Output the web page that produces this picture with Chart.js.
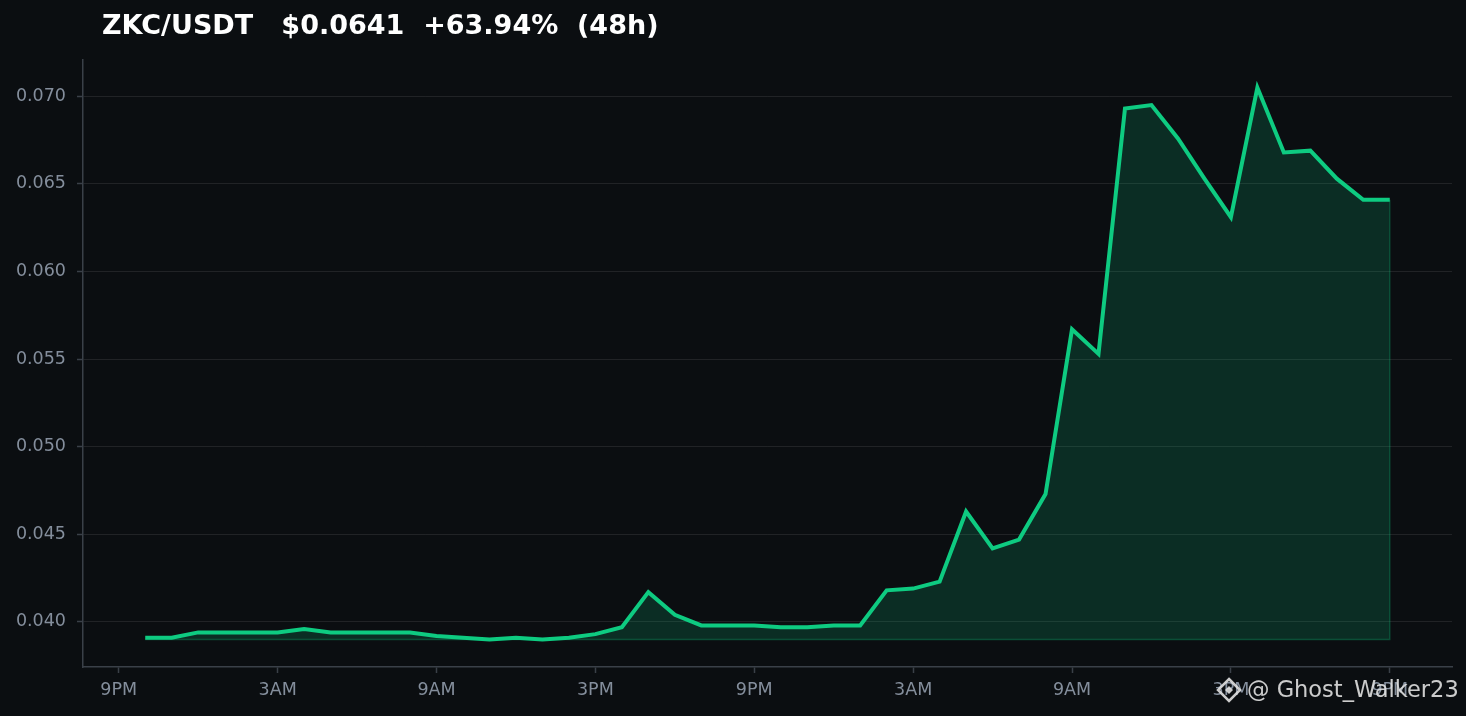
<!DOCTYPE html>
<html>
<head>
<meta charset="utf-8">
<script src="https://cdn.jsdelivr.net/npm/chart.js@4/dist/chart.umd.min.js"></script>
<style>
  html, body { margin: 0; padding: 0; background: #0b0e11; }
  #wrap { width: 1466px; height: 716px; }
</style>
</head>
<body>
<div id="wrap"><canvas id="c" width="1466" height="716"></canvas></div>
<script>
// --- data (hourly closes, hour 1 = 10PM of day 1) ---
const hours = [];
for (let h = 1; h <= 48; h++) hours.push(h);

const prices = [
  0.0391, 0.0391, 0.0394, 0.0394, 0.0394, 0.0394, 0.0396, 0.0394,
  0.0394, 0.0394, 0.0394, 0.0392, 0.0391, 0.0390, 0.0391, 0.0390,
  0.0391, 0.0393, 0.0397, 0.0417, 0.0404, 0.0398, 0.0398, 0.0398,
  0.0397, 0.0397, 0.0398, 0.0398, 0.0418, 0.0419, 0.0423, 0.0463,
  0.0442, 0.0447, 0.0473, 0.0567, 0.0553, 0.0693, 0.0695, 0.0676,
  0.0653, 0.0631, 0.0705, 0.0668, 0.0669, 0.0653, 0.0641, 0.0641
];

const xTickHours = [0, 6, 12, 18, 24, 30, 36, 42, 48];
const xTickLabels = ['9PM', '3AM', '9AM', '3PM', '9PM', '3AM', '9AM', '3PM', '9PM'];
const yTicks = [0.040, 0.045, 0.050, 0.055, 0.060, 0.065, 0.070];

const TITLE = 'ZKC/USDT   $0.0641  +63.94%  (48h)';
const WATERMARK = '@ Ghost_Walker23';

// --- colours ---
const BG = '#0b0e11';
const GREEN = '#0ecb81';
const FILL = 'rgba(14, 203, 129, 0.17)';
const FILL_EDGE = 'rgba(14, 203, 129, 0.28)';
const AXIS = '#3a4048';
const GRID = 'rgba(255, 255, 255, 0.09)';
const LABEL = '#848e9c';

// matplotlib-like 5% margins
const pMin = Math.min(...prices), pMax = Math.max(...prices);
const yPad = (pMax - pMin) * 0.05;
const xPad = (hours[hours.length - 1] - hours[0]) * 0.05;

const bgPlugin = {
  id: 'bg',
  beforeDraw(chart) {
    const ctx = chart.ctx;
    ctx.save();
    ctx.fillStyle = BG;
    ctx.fillRect(0, 0, chart.width, chart.height);
    ctx.restore();
  }
};

// faint outline along the bottom and right side of the filled area
const fillEdgePlugin = {
  id: 'fillEdge',
  beforeDatasetsDraw(chart) {
    const x = chart.scales.x, y = chart.scales.y;
    const ctx = chart.ctx;
    const x0 = x.getPixelForValue(hours[0]);
    const x1 = x.getPixelForValue(hours[hours.length - 1]);
    const yb = y.getPixelForValue(pMin);
    const yt = y.getPixelForValue(prices[prices.length - 1]);
    ctx.save();
    ctx.strokeStyle = FILL_EDGE;
    ctx.lineWidth = 1.5;
    ctx.beginPath();
    ctx.moveTo(x0, yb); ctx.lineTo(x1, yb); ctx.lineTo(x1, yt);
    ctx.stroke();
    ctx.restore();
  }
};

const decorPlugin = {
  id: 'decor',
  afterDraw(chart) {
    const ctx = chart.ctx;
    ctx.save();
    // title
    ctx.fillStyle = '#ffffff';
    ctx.font = 'bold 27px "DejaVu Sans"';
    ctx.textBaseline = 'middle';
    ctx.textAlign = 'left';
    ctx.fillText(TITLE, 102, 27);

    // watermark icon (diamond)
    const cx = 1229, cy = 690;
    ctx.strokeStyle = 'rgba(225, 225, 225, 0.9)';
    ctx.fillStyle = 'rgba(225, 225, 225, 0.9)';
    ctx.lineWidth = 2.5;
    ctx.beginPath();
    ctx.moveTo(cx, cy - 11); ctx.lineTo(cx + 11, cy);
    ctx.lineTo(cx, cy + 11); ctx.lineTo(cx - 11, cy);
    ctx.closePath();
    ctx.stroke();
    ctx.beginPath();
    ctx.moveTo(cx, cy - 4); ctx.lineTo(cx + 4, cy);
    ctx.lineTo(cx, cy + 4); ctx.lineTo(cx - 4, cy);
    ctx.closePath();
    ctx.fill();

    // watermark text
    ctx.font = '22.5px "DejaVu Sans"';
    ctx.fillStyle = 'rgba(225, 225, 225, 0.9)';
    ctx.fillText(WATERMARK, 1247, 691);
    ctx.restore();
  }
};

new Chart(document.getElementById('c'), {
  type: 'line',
  data: {
    labels: hours,
    datasets: [{
      data: hours.map((h, i) => ({ x: h, y: prices[i] })),
      borderColor: GREEN,
      borderWidth: 4,
      backgroundColor: FILL,
      fill: { value: pMin },
      pointRadius: 0,
      tension: 0
    }]
  },
  options: {
    responsive: false,
    animation: false,
    layout: { padding: { top: 60, right: 14, left: 0, bottom: 0 } },
    plugins: {
      legend: { display: false },
      tooltip: { enabled: false },
      title: { display: false }
    },
    scales: {
      x: {
        type: 'linear',
        min: hours[0] - xPad,
        max: hours[hours.length - 1] + xPad,
        afterBuildTicks: s => { s.ticks = xTickHours.map(v => ({ value: v })); },
        afterFit: s => { s.height = 49; },
        border: { display: true, color: AXIS, width: 1.5 },
        grid: { drawOnChartArea: false, drawTicks: true, tickLength: 6, tickColor: AXIS, tickWidth: 1.5 },
        ticks: {
          color: LABEL,
          font: { family: 'DejaVu Sans', size: 17.5 },
          padding: 7,
          maxRotation: 0,
          autoSkip: false,
          callback: v => xTickLabels[xTickHours.indexOf(v)]
        }
      },
      y: {
        type: 'linear',
        min: pMin - yPad,
        max: pMax + yPad,
        afterBuildTicks: s => { s.ticks = yTicks.map(v => ({ value: v })); },
        afterFit: s => { s.width = 83; },
        border: { display: true, color: AXIS, width: 1.5 },
        grid: {
          color: GRID,
          lineWidth: 1,
          borderDash: [4, 3],
          drawTicks: true,
          tickLength: 6,
          tickColor: AXIS,
          tickWidth: 1.5,
          tickBorderDash: []
        },
        ticks: {
          color: LABEL,
          font: { family: 'DejaVu Sans', size: 17.5 },
          padding: 11,
          callback: v => v.toFixed(3)
        }
      }
    }
  },
  plugins: [bgPlugin, fillEdgePlugin, decorPlugin]
});
</script>
</body>
</html>
